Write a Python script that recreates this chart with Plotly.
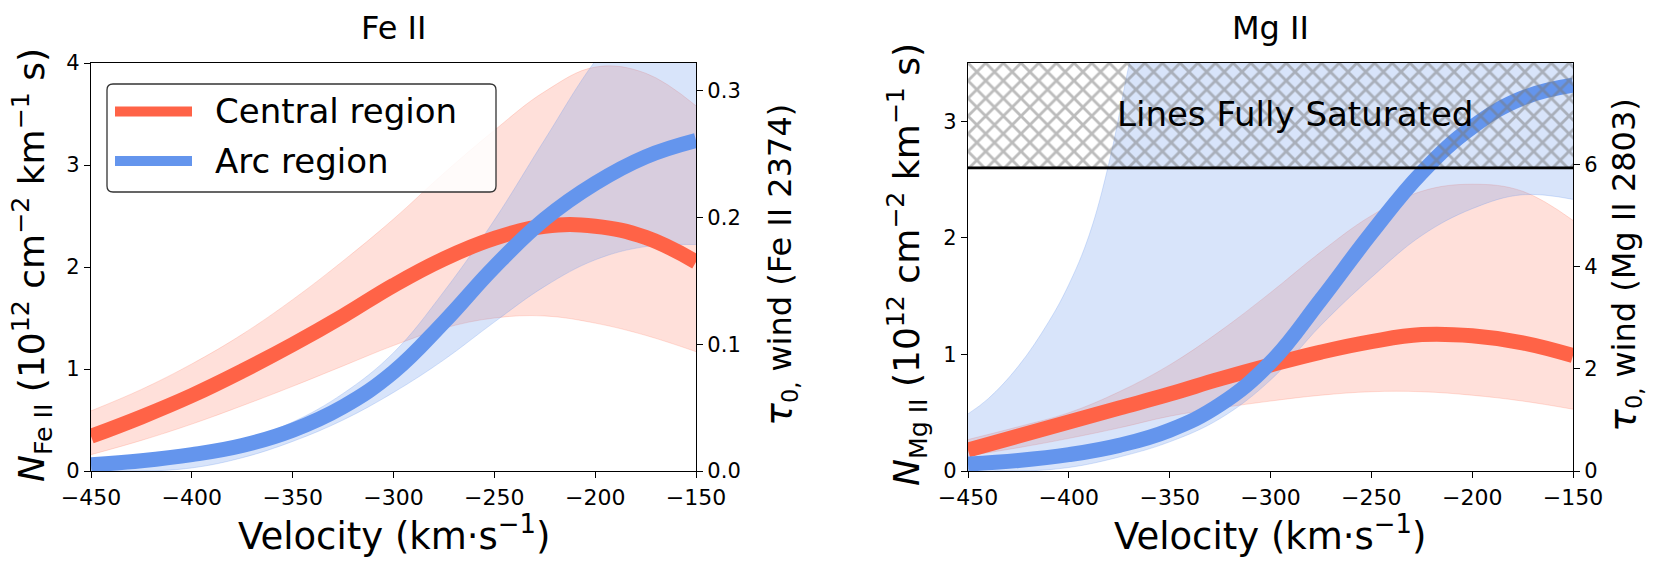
import plotly.graph_objects as go

# ---------------- data ----------------
velocity = [-450, -425, -400, -375, -350, -325, -300, -275, -250, -225, -200, -175, -150]

# Fe II panel (N in 1e12 cm^-2 km^-1 s)
fe_central = [0.34, 0.53, 0.74, 0.98, 1.24, 1.52, 1.82, 2.08, 2.28, 2.40, 2.40, 2.29, 2.05]
fe_central_hi = [0.59, 0.80, 1.05, 1.34, 1.68, 2.06, 2.47, 2.92, 3.34, 3.72, 3.96, 3.90, 3.58]
fe_central_lo = [0.16, 0.30, 0.46, 0.64, 0.83, 1.03, 1.23, 1.40, 1.50, 1.52, 1.45, 1.33, 1.17]
fe_arc = [0.06, 0.10, 0.16, 0.25, 0.40, 0.63, 0.97, 1.46, 2.00, 2.47, 2.82, 3.08, 3.24]
fe_arc_hi = [0.10, 0.13, 0.19, 0.30, 0.48, 0.76, 1.16, 1.76, 2.46, 3.25, 4.02, 4.60, 5.00]
fe_arc_lo = [0.02, 0.00, 0.03, 0.13, 0.29, 0.50, 0.77, 1.09, 1.46, 1.81, 2.07, 2.20, 2.22]

# Mg II panel
mg_central = [0.18, 0.30, 0.42, 0.54, 0.66, 0.79, 0.91, 1.02, 1.11, 1.17, 1.16, 1.10, 0.99]
mg_central_hi = [0.27, 0.38, 0.50, 0.68, 0.91, 1.20, 1.53, 1.88, 2.19, 2.40, 2.46, 2.40, 2.15]
mg_central_lo = [0.13, 0.20, 0.28, 0.37, 0.47, 0.54, 0.60, 0.65, 0.68, 0.68, 0.65, 0.60, 0.53]
mg_arc = [0.06, 0.09, 0.14, 0.22, 0.35, 0.57, 0.93, 1.47, 2.04, 2.56, 2.95, 3.20, 3.31]
mg_arc_lo = [0.02, 0.00, 0.03, 0.12, 0.25, 0.45, 0.78, 1.25, 1.66, 2.02, 2.25, 2.37, 2.33]
mg_arc_hi_velocity = [-450, -440, -425, -410, -400, -390, -380, -370, -360, -350, -300, -250, -200, -150]
mg_arc_hi = [0.49, 0.62, 0.90, 1.28, 1.60, 2.02, 2.65, 3.50, 4.30, 5.00, 6.00, 6.50, 6.80, 7.00]

saturation_level = 2.6          # N_MgII above which lines are saturated
v_range = [-450, -150]
fe_n_range = [0, 4]
fe_tau_range = [0, 0.322]
mg_n_range = [0, 3.5]
mg_tau_range = [0, 7.98]

panel_titles = ["Fe II", "Mg II"]
legend_names = ["Central region", "Arc region"]
x_title = "Velocity (km·s<sup>−1</sup>)"
n_titles = ["<i>N</i><sub>Fe II</sub> (10<sup>12</sup> cm<sup>−2</sup> km<sup>−1</sup> s)",
            "<i>N</i><sub>Mg II</sub> (10<sup>12</sup> cm<sup>−2</sup> km<sup>−1</sup> s)"]
tau_titles = ["<span style='font-size:38px'><i>τ</i></span><sub>0,</sub> wind (Fe II 2374)",
              "<span style='font-size:38px'><i>τ</i></span><sub>0,</sub> wind (Mg II 2803)"]

RED = "#FF6347"
BLUE = "#6495ED"
RED_FILL = "rgba(255,99,71,0.2)"
BLUE_FILL = "rgba(100,149,237,0.25)"
FONT = "DejaVu Sans"
W, H = 1660, 573
OFF = 8  # page offset of the plot div


def px(x):
    return (x - OFF) / W


def py(y):
    return 1 - (y - OFF) / H


fig = go.Figure()


def band(x, lo, hi, fill, xa, ya, xhi=None):
    fig.add_trace(go.Scatter(x=x, y=lo, mode="lines", xaxis=xa, yaxis=ya,
                             line=dict(color=fill, width=1, shape="spline", smoothing=1.1),
                             showlegend=False, hoverinfo="skip"))
    fig.add_trace(go.Scatter(x=xhi if xhi else x, y=hi, mode="lines", xaxis=xa, yaxis=ya,
                             fill="tonexty", fillcolor=fill,
                             line=dict(color=fill, width=1, shape="spline", smoothing=1.1),
                             showlegend=False, hoverinfo="skip"))


def thick(x, y, color, xa, ya, name=None):
    fig.add_trace(go.Scatter(x=x, y=y, mode="lines", xaxis=xa, yaxis=ya, name=name,
                             showlegend=False,
                             line=dict(color=color, width=15, shape="spline", smoothing=1.2)))


# ---- Fe II panel ----
band(velocity, fe_central_lo, fe_central_hi, RED_FILL, "x", "y")
band(velocity, fe_arc_lo, fe_arc_hi, BLUE_FILL, "x", "y")
thick(velocity, fe_central, RED, "x", "y", legend_names[0])
thick(velocity, fe_arc, BLUE, "x", "y", legend_names[1])
# twin (optical depth) axis of the Fe II panel
fig.add_trace(go.Scatter(x=[], y=[], xaxis="x", yaxis="y2", showlegend=False, hoverinfo="skip"))

# ---- Mg II panel ----
band(velocity, mg_central_lo, mg_central_hi, RED_FILL, "x2", "y3")
band(velocity, mg_arc_lo, mg_arc_hi, BLUE_FILL, "x2", "y3", xhi=mg_arc_hi_velocity)
thick(velocity, mg_central, RED, "x2", "y3", legend_names[0])
thick(velocity, mg_arc, BLUE, "x2", "y3", legend_names[1])
fig.add_trace(go.Scatter(x=[], y=[], xaxis="x2", yaxis="y4", showlegend=False, hoverinfo="skip"))

# saturated region (hatched)
sat_x = [v_range[0], v_range[1], v_range[1], v_range[0], v_range[0]]
sat_y = [saturation_level, saturation_level, mg_n_range[1], mg_n_range[1], saturation_level]
fig.add_trace(go.Scatter(x=sat_x, y=sat_y, mode="lines", xaxis="x2", yaxis="y3",
                         fill="toself", fillcolor="rgba(0,0,0,0)",
                         fillpattern=dict(shape="x", size=12.5, solidity=0.4,
                                          fgcolor="#7a7a7a", bgcolor="rgba(0,0,0,0)"),
                         line=dict(width=0), showlegend=False, hoverinfo="skip"))
fig.add_trace(go.Scatter(x=v_range, y=[saturation_level, saturation_level], mode="lines",
                         xaxis="x2", yaxis="y3", line=dict(color="black", width=2.7),
                         showlegend=False, hoverinfo="skip"))

fig.add_annotation(x=-288, y=3.06, xref="x2", yref="y3", text="Lines Fully Saturated",
                   xanchor="center", yanchor="middle",
                   showarrow=False, font=dict(size=34, color="black", family=FONT))

# ---------------- layout ----------------
dom_x1 = [px(91), px(696)]
dom_x2 = [px(968), px(1573)]
dom_y = [py(471), py(63)]

ax_common = dict(showline=True, linecolor="black", linewidth=1.3, ticks="outside", ticklen=6,
                 tickwidth=1.3, tickcolor="black", showgrid=False, zeroline=False,
                 automargin=False)
xa = dict(ax_common, range=v_range, dtick=50, tick0=-450, mirror=True,
          tickfont=dict(size=22, color="black", family=FONT))
ya_left = dict(ax_common, dtick=1, tickfont=dict(size=21, color="black", family=FONT))
ya_right = dict(ax_common, side="right", tickfont=dict(size=21, color="black", family=FONT))

fig.update_layout(
    width=W, height=H,
    margin=dict(l=0, r=0, t=0, b=0, autoexpand=False),
    paper_bgcolor="white", plot_bgcolor="white",
    font=dict(family=FONT, color="black"),
    xaxis=dict(xa, domain=dom_x1, anchor="y"),
    xaxis2=dict(xa, domain=dom_x2, anchor="y3"),
    yaxis=dict(ya_left, domain=dom_y, anchor="x", range=fe_n_range),
    yaxis2=dict(ya_right, domain=dom_y, anchor="x", overlaying="y", range=fe_tau_range,
                dtick=0.1, tickformat=".1f"),
    yaxis3=dict(ya_left, domain=dom_y, anchor="x2", range=mg_n_range),
    yaxis4=dict(ya_right, domain=dom_y, anchor="x2", overlaying="y3", range=mg_tau_range, dtick=2),
    showlegend=False,
)

# titles and axis titles (paper coordinates, pixel based)
panel_doms = [dom_x1, dom_x2]
n_title_x = [32, 907]
tau_title_x = [780, 1624]
for i in range(2):
    dom = panel_doms[i]
    cx = (dom[0] + dom[1]) / 2
    common = dict(xref="paper", yref="paper", showarrow=False, xanchor="center", yanchor="middle")
    fig.add_annotation(x=cx, y=py(28), text=panel_titles[i],
                       font=dict(size=32, color="black", family=FONT), **common)
    fig.add_annotation(x=cx, y=py(533), text=x_title,
                       font=dict(size=37, color="black", family=FONT), **common)
    fig.add_annotation(x=px(n_title_x[i]), y=py(265), text=n_titles[i], textangle=-90,
                       font=dict(size=36, color="black", family=FONT), **common)
    fig.add_annotation(x=px(tau_title_x[i]), y=py(265), text=tau_titles[i], textangle=-90,
                       font=dict(size=32, color="black", family=FONT), **common)

# legend (matplotlib-style box, drawn in the Fe II panel)
lx0, lx1, ly0, ly1, r = 107, 496, 84, 192, 6
box_path = (f"M{px(lx0 + r)},{py(ly0)} L{px(lx1 - r)},{py(ly0)} Q{px(lx1)},{py(ly0)} {px(lx1)},{py(ly0 + r)} "
            f"L{px(lx1)},{py(ly1 - r)} Q{px(lx1)},{py(ly1)} {px(lx1 - r)},{py(ly1)} "
            f"L{px(lx0 + r)},{py(ly1)} Q{px(lx0)},{py(ly1)} {px(lx0)},{py(ly1 - r)} "
            f"L{px(lx0)},{py(ly0 + r)} Q{px(lx0)},{py(ly0)} {px(lx0 + r)},{py(ly0)} Z")
fig.add_shape(type="path", path=box_path, xref="paper", yref="paper", layer="above",
              fillcolor="rgba(255,255,255,0.85)", line=dict(color="#333333", width=1.3))
legend_rows = [111.5, 161]
legend_colors = [RED, BLUE]
for name, yrow, col in zip(legend_names, legend_rows, legend_colors):
    fig.add_shape(type="line", xref="paper", yref="paper", layer="above",
                  x0=px(115), x1=px(192), y0=py(yrow), y1=py(yrow),
                  line=dict(color=col, width=10))
    fig.add_annotation(x=px(213), y=py(yrow), xref="paper", yref="paper", text=name,
                       xanchor="left", yanchor="middle", showarrow=False,
                       font=dict(size=34, color="black", family=FONT))

fig.write_html("out.html")
